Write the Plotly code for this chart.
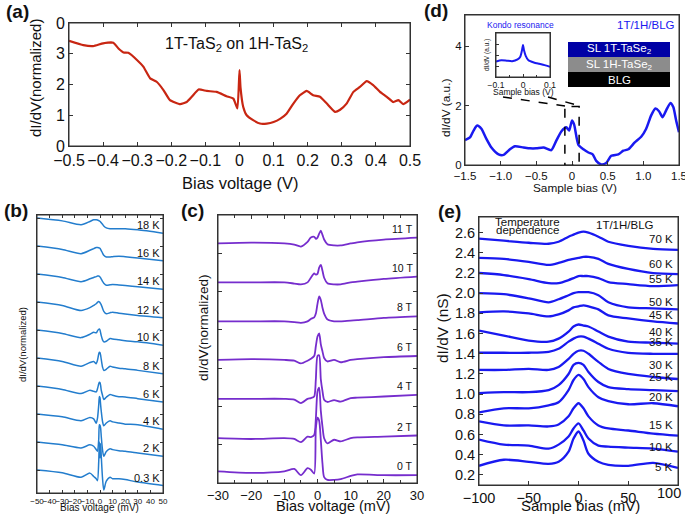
import plotly.graph_objects as go

# ---------------- data ----------------
# (a) 1T-TaS2 on 1H-TaS2
a_bias = [-0.5, -0.458, -0.429, -0.4, -0.37, -0.355, -0.34, -0.326, -0.3, -0.282, -0.262, -0.243,
          -0.223, -0.204, -0.174, -0.155, -0.14, -0.12, -0.096, -0.067, -0.038, -0.018, -0.006,
          0.0, 0.003, 0.011, 0.021, 0.04, 0.06, 0.08, 0.1, 0.12, 0.138, 0.158, 0.177, 0.197,
          0.216, 0.236, 0.256, 0.28, 0.295, 0.314, 0.334, 0.353, 0.373, 0.392, 0.412, 0.432,
          0.451, 0.466, 0.48, 0.5]
a_didv = [3.42, 3.28, 3.25, 3.34, 3.36, 3.17, 3.04, 3.03, 2.79, 2.58, 2.2, 2.09,
          1.82, 1.49, 1.36, 1.43, 1.6, 1.84, 1.79, 1.76, 1.62, 1.54, 1.22,
          2.47, 1.9, 1.27, 1.0, 0.84, 0.73, 0.73, 0.78, 0.89, 1.05, 1.38, 1.65, 1.79,
          1.65, 1.6, 1.38, 1.11, 1.18, 1.38, 1.76, 1.92, 2.11, 1.98, 1.76, 1.6,
          1.43, 1.49, 1.36, 1.51]

# (b) temperature series (offset curves, normalized)
b_bias = [-50, -30, -15, -8, -5, -3, -2, -1, -0.5, 0, 0.5, 1, 2, 3, 5, 8, 10, 15, 20, 30, 50]
b_labels = ["18 K", "16 K", "14 K", "12 K", "10 K", "8 K", "6 K", "4 K", "2 K", "0.3 K"]
b_offsets = [9, 8, 7, 6, 5, 4, 3, 2, 1, 0]
b_18K = [0, -0.1, -0.24, -0.12, -0.06, -0.06, -0.07, -0.09, -0.1, -0.12, -0.14, -0.17, -0.22, -0.28, -0.35, -0.38, -0.38, -0.38, -0.38, -0.42, -0.54]
b_16K = [0, -0.12, -0.27, -0.15, -0.09, -0.05, -0.05, -0.06, -0.07, -0.08, -0.12, -0.16, -0.25, -0.33, -0.39, -0.39, -0.38, -0.36, -0.38, -0.43, -0.52]
b_14K = [0, -0.12, -0.27, -0.17, -0.12, -0.09, -0.07, -0.07, -0.08, -0.1, -0.14, -0.18, -0.26, -0.33, -0.4, -0.38, -0.37, -0.39, -0.41, -0.45, -0.54]
b_12K = [0, -0.12, -0.3, -0.2, -0.12, -0.06, -0.01, 0.02, 0.01, -0.02, -0.06, -0.1, -0.22, -0.33, -0.42, -0.38, -0.36, -0.4, -0.43, -0.48, -0.56]
b_10K = [0, -0.12, -0.27, -0.15, -0.08, -0.1, -0.03, 0.03, 0.04, 0.0, -0.1, -0.2, -0.35, -0.42, -0.4, -0.3, -0.32, -0.35, -0.38, -0.42, -0.54]
b_8K = [0, -0.12, -0.29, -0.16, -0.12, -0.2, -0.08, 0.15, 0.21, 0.19, 0.1, -0.05, -0.32, -0.44, -0.4, -0.29, -0.32, -0.36, -0.38, -0.44, -0.56]
b_6K = [0, -0.12, -0.27, -0.15, -0.19, -0.21, -0.1, 0.08, 0.14, 0.12, 0.02, -0.15, -0.33, -0.48, -0.4, -0.3, -0.33, -0.38, -0.39, -0.45, -0.57]
b_4K = [0, -0.1, -0.24, -0.12, -0.17, -0.33, -0.15, 0.33, 0.63, 0.58, 0.33, 0.1, -0.26, -0.42, -0.32, -0.24, -0.28, -0.32, -0.36, -0.38, -0.54]
b_2K = [0, -0.1, -0.21, -0.1, -0.15, -0.27, -0.33, 0.1, 0.62, 0.6, 0.5, 0.2, -0.28, -0.51, -0.34, -0.24, -0.27, -0.31, -0.33, -0.39, -0.51]
b_03K = [0, -0.1, -0.26, -0.11, -0.23, -0.31, -0.38, 0.31, 1.0, 0.43, 0.95, 0.5, -0.29, -0.71, -0.4, -0.26, -0.31, -0.31, -0.34, -0.43, -0.55]

# (c) magnetic-field series
c_bias = [-30, -20, -10, -7, -5, -3, -2, -1, -0.5, 0, 0.5, 1, 1.5, 2, 3, 5, 7, 10, 12, 20, 30]
c_labels = ["11 T", "10 T", "8 T", "6 T", "4 T", "2 T", "0 T"]
c_offsets = [6.15, 5.15, 4.15, 3.16, 2.16, 1.15, 0.30]
c_11T = [0, 0.02, 0.0, -0.03, -0.08, 0.04, 0.15, 0.17, 0.12, 0.15, 0.25, 0.33, 0.22, 0.1, -0.02, -0.05, -0.05, 0.0, 0.03, 0.1, 0.15]
c_10T = [0, 0.0, 0.0, -0.03, -0.05, 0.0, 0.12, 0.23, 0.2, 0.22, 0.38, 0.45, 0.3, 0.12, -0.02, -0.05, -0.05, 0.0, 0.02, 0.09, 0.15]
c_8T = [0, 0.0, 0.0, -0.02, -0.04, 0.0, 0.06, 0.1, 0.2, 0.45, 0.64, 0.55, 0.35, 0.2, 0.05, 0.0, 0.0, 0.02, 0.03, 0.09, 0.13]
c_6T = [0, 0.02, 0.0, -0.02, -0.09, -0.02, 0.03, 0.1, 0.35, 0.6, 0.68, 0.4, 0.22, 0.05, -0.04, 0.0, -0.06, 0.0, 0.02, 0.07, 0.1]
c_4T = [0, 0.0, 0.0, -0.02, -0.11, 0.0, 0.02, 0.06, 0.5, 1.1, 1.12, 0.5, 0.2, -0.02, -0.08, -0.03, -0.07, 0.02, 0.03, 0.06, 0.1]
c_2T = [0, -0.02, 0.0, -0.02, -0.1, 0.04, 0.03, 0.08, 0.5, 1.2, 1.3, 0.7, 0.3, 0.0, -0.13, -0.04, -0.08, 0.0, 0.02, 0.04, 0.07]
c_0T = [0, -0.04, 0.0, 0.06, -0.1, 0.08, 0.04, -0.06, 1.1, 1.38, 1.3, 0.8, 0.2, -0.15, -0.22, -0.22, -0.2, -0.12, -0.08, -0.1, -0.1]

# (d) 1T/1H/BLG wide spectrum
d_bias = [-1.5, -1.43, -1.38, -1.33, -1.27, -1.2, -1.13, -1.03, -0.96, -0.87, -0.8, -0.68, -0.59,
          -0.5, -0.4, -0.29, -0.22, -0.15, -0.08, -0.04, 0.0, 0.03, 0.09, 0.16, 0.23, 0.29, 0.34,
          0.41, 0.48, 0.55, 0.65, 0.72, 0.79, 0.88, 0.97, 1.04, 1.11, 1.17, 1.22, 1.27, 1.32,
          1.38, 1.42, 1.46, 1.5]
d_didv = [0.84, 0.93, 1.16, 1.33, 1.22, 0.88, 0.59, 0.36, 0.34, 0.53, 0.63, 0.59, 0.56,
          0.56, 0.59, 0.5, 0.82, 1.13, 1.27, 1.16, 1.5, 1.36, 0.68, 0.53, 0.42, 0.36, 0.14,
          0.02, 0.07, 0.31, 0.36, 0.48, 0.53, 0.76, 0.95, 1.22, 1.67, 1.9, 1.81, 1.61, 1.84,
          2.09, 1.95, 1.5, 1.1]
# (d) inset: Kondo resonance
k_bias = [-0.1, -0.08, -0.06, -0.04, -0.02, -0.01, -0.004, 0.0, 0.004, 0.01, 0.02, 0.04, 0.06, 0.08, 0.1]
k_didv = [0.35, 0.38, 0.37, 0.36, 0.4, 0.46, 0.6, 0.73, 0.6, 0.48, 0.38, 0.33, 0.3, 0.27, 0.23]

# (e) temperature dependence (nS)
e_bias = [-100, -75, -50, -30, -20, -10, -5, 0, 5, 10, 20, 30, 50, 75, 100]
e_labels = ["70 K", "60 K", "55 K", "50 K", "45 K", "40 K", "35 K", "30 K", "25 K", "20 K", "15 K", "10 K", "5 K"]
e_70K = [2.54, 2.52, 2.50, 2.49, 2.51, 2.56, 2.58, 2.60, 2.61, 2.60, 2.56, 2.51, 2.47, 2.44, 2.43]
e_60K = [2.35, 2.34, 2.31, 2.28, 2.30, 2.33, 2.34, 2.35, 2.36, 2.36, 2.34, 2.29, 2.24, 2.20, 2.19]
e_55K = [2.20, 2.18, 2.14, 2.10, 2.10, 2.13, 2.15, 2.17, 2.17, 2.17, 2.15, 2.11, 2.09, 2.07, 2.08]
e_50K = [2.00, 1.99, 1.95, 1.91, 1.94, 1.98, 2.00, 2.01, 2.01, 2.01, 1.98, 1.91, 1.86, 1.85, 1.84]
e_45K = [1.81, 1.82, 1.80, 1.77, 1.79, 1.83, 1.86, 1.87, 1.88, 1.87, 1.84, 1.78, 1.75, 1.72, 1.70]
e_40K = [1.63, 1.58, 1.53, 1.52, 1.55, 1.62, 1.67, 1.69, 1.68, 1.67, 1.62, 1.57, 1.52, 1.51, 1.50]
e_35K = [1.41, 1.41, 1.41, 1.42, 1.45, 1.52, 1.55, 1.57, 1.57, 1.55, 1.50, 1.45, 1.41, 1.40, 1.40]
e_30K = [1.24, 1.24, 1.25, 1.24, 1.27, 1.35, 1.40, 1.43, 1.43, 1.40, 1.32, 1.25, 1.20, 1.17, 1.15]
e_25K = [1.01, 1.02, 1.02, 1.04, 1.09, 1.20, 1.29, 1.31, 1.29, 1.22, 1.12, 1.07, 1.05, 1.04, 1.03]
e_20K = [0.82, 0.86, 0.86, 0.89, 0.92, 1.04, 1.14, 1.19, 1.15, 1.07, 0.97, 0.93, 0.90, 0.91, 0.88]
e_15K = [0.73, 0.69, 0.69, 0.68, 0.70, 0.78, 0.86, 0.91, 0.86, 0.78, 0.69, 0.66, 0.64, 0.61, 0.59]
e_10K = [0.55, 0.50, 0.49, 0.46, 0.50, 0.58, 0.66, 0.71, 0.64, 0.56, 0.49, 0.48, 0.47, 0.46, 0.43]
e_5K = [0.29, 0.35, 0.33, 0.31, 0.33, 0.43, 0.56, 0.63, 0.54, 0.41, 0.33, 0.30, 0.29, 0.32, 0.27]

# ---------------- figure ----------------
FONT = "Liberation Sans, Arial, Helvetica, sans-serif"
W, H = 685, 514


def px(x):
    return x / W


def py(y):
    return 1 - y / H


RED = "rgb(200,38,18)"
BLUE_B = "rgb(35,125,205)"
PURPLE = "rgb(118,45,205)"
BLUE = "rgb(25,25,240)"
AXC = "#333333"

fig = go.Figure()

# (a)
fig.add_trace(go.Scatter(x=a_bias, y=a_didv, mode="lines", xaxis="x", yaxis="y",
                         line=dict(color=RED, width=2.2, shape="spline", smoothing=0.4),
                         showlegend=False))

# (b)
b_series = [b_18K, b_16K, b_14K, b_12K, b_10K, b_8K, b_6K, b_4K, b_2K, b_03K]
for off, s in zip(b_offsets, b_series):
    fig.add_trace(go.Scatter(x=b_bias, y=[off + v for v in s], mode="lines", xaxis="x2", yaxis="y2",
                             line=dict(color=BLUE_B, width=1.5, shape="spline", smoothing=0.7),
                             showlegend=False))

# (c)
c_series = [c_11T, c_10T, c_8T, c_6T, c_4T, c_2T, c_0T]
for off, s in zip(c_offsets, c_series):
    fig.add_trace(go.Scatter(x=c_bias, y=[off + v for v in s], mode="lines", xaxis="x3", yaxis="y3",
                             line=dict(color=PURPLE, width=1.8, shape="spline", smoothing=0.7),
                             showlegend=False))

# (d)
fig.add_trace(go.Scatter(x=d_bias, y=d_didv, mode="lines", xaxis="x4", yaxis="y4",
                         line=dict(color=BLUE, width=2.5, shape="spline", smoothing=0.6),
                         showlegend=False))
fig.add_trace(go.Scatter(x=k_bias, y=k_didv, mode="lines", xaxis="x5", yaxis="y5",
                         line=dict(color=BLUE, width=2, shape="spline", smoothing=0.6),
                         showlegend=False))

# (e)
e_series = [e_70K, e_60K, e_55K, e_50K, e_45K, e_40K, e_35K, e_30K, e_25K, e_20K, e_15K, e_10K, e_5K]
for s in e_series:
    fig.add_trace(go.Scatter(x=e_bias, y=s, mode="lines", xaxis="x6", yaxis="y6",
                             line=dict(color=BLUE, width=2.3, shape="spline", smoothing=0.8),
                             showlegend=False))


def ax(domain, rng, anchor, size, **kw):
    d = dict(domain=domain, range=rng, anchor=anchor, showline=True, linecolor=AXC, linewidth=1,
             mirror="allticks", ticks="inside", ticklen=4, tickcolor=AXC, tickwidth=1, showgrid=False,
             zeroline=False, automargin=False, tickfont=dict(family=FONT, size=size, color="#111"),
             tickangle=0, ticklabeloverflow="allow")
    d.update(kw)
    return d


layout = dict(
    template="none",
    width=W, height=H, autosize=False, margin=dict(l=0, r=0, t=0, b=0, pad=0),
    paper_bgcolor="white", plot_bgcolor="rgba(0,0,0,0)", font=dict(family=FONT, color="#111"),
    showlegend=False,
    # (a)
    xaxis=ax([px(69), px(410)], [-0.5, 0.5], "y", 16, tickvals=[-0.5, -0.4, -0.3, -0.2, -0.1, 0, 0.1, 0.2, 0.3, 0.4, 0.5],
             ticktext=["−0.5", "−0.4", "−0.3", "−0.2", "−0.1", "0", "0.1", "0.2", "0.3", "0.4", "0.5"]),
    yaxis=ax([py(146), py(23)], [0, 4], "x", 16, tickvals=[0, 1, 2, 3, 4], ticktext=["0", "1", "2", "3", "0"]),
    # (b)
    xaxis2=ax([px(37), px(163)], [-50, 50], "y2", 8, tickvals=[-50, -40, -30, -20, -10, 0, 10, 20, 30, 40, 50],
              ticktext=["−50", "−40", "−30", "−20", "−10", "0", "10", "20", "30", "40", "50"], ticklen=3),
    yaxis2=ax([py(493), py(215)], [-0.82, 9.11], "x2", 8, tickvals=[0, 1, 2, 3, 4, 5, 6, 7, 8, 9],
              showticklabels=False, ticklen=3),
    # (c)
    xaxis3=ax([px(218), px(417)], [-30, 30], "y3", 13, tickvals=[-30, -20, -10, 0, 10, 20, 30],
              ticktext=["−30", "−20", "−10", "0", "10", "20", "30"],
              minor=dict(dtick=5, ticks="inside", ticklen=3, tickcolor=AXC)),
    yaxis3=ax([py(483), py(215)], [0, 6.88], "x3", 13, tickvals=[0.98, 1.97, 2.95, 3.93, 4.91, 5.9],
              showticklabels=False),
    # (d)
    xaxis4=ax([px(465), px(679)], [-1.5, 1.5], "y4", 11.5, tickvals=[-1.5, -1, -0.5, 0, 0.5, 1, 1.5],
              ticktext=["−1.5", "−1.0", "−0.5", "0", "0.5", "1.0", "1.5"], mirror=True),
    yaxis4=ax([py(165), py(15)], [0, 5.05], "x4", 11.5, tickvals=[0, 2, 4], mirror=True),
    xaxis5=ax([px(496), px(550)], [-0.1, 0.1], "y5", 8.5, tickvals=[-0.1, 0, 0.1],
              ticktext=["−0.1", "0", "0.1"], ticklen=3, mirror=True,
              minor=dict(dtick=0.05, ticks="inside", ticklen=2, tickcolor=AXC)),
    yaxis5=ax([py(77), py(33)], [0, 1], "x5", 6, tickvals=[0.25, 0.5, 0.75], showticklabels=False, ticklen=3,
              mirror=True),
    # (e)
    xaxis6=ax([px(479), px(678)], [-100, 100], "y6", 14.5, tickvals=[-100, -50, 0, 50, 100],
              ticktext=["−100", "−50", "0", "50", ""], mirror=True),
    yaxis6=ax([py(485), py(217)], [0.1, 2.755], "x6", 14.5, mirror=True,
              tickvals=[0.2, 0.4, 0.6, 0.8, 1.0, 1.2, 1.4, 1.6, 1.8, 2.0, 2.2, 2.4, 2.6],
              ticktext=["0.2", "0.4", "0.6", "0.8", "1.0", "1.2", "1.4", "1.6", "1.8", "2.0", "2.2", "2.4", "2.6"]),
)
fig.update_layout(**layout)

ann = []


def txt(x, y, s, size, color="#111", bold=False, angle=0, xanchor="center", yanchor="middle", xref="paper", yref="paper"):
    if xref == "paper":
        x = px(x)
    if yref == "paper":
        y = py(y)
    ann.append(dict(x=x, y=y, xref=xref, yref=yref, text=("<b>%s</b>" % s if bold else s), showarrow=False,
                    textangle=angle, xanchor=xanchor, yanchor=yanchor,
                    font=dict(family=FONT, size=size, color=color)))


# panel letters
txt(17, 11, "(a)", 19, bold=True)
txt(16, 210, "(b)", 19, bold=True)
txt(192, 210, "(c)", 19, bold=True)
txt(436, 10, "(d)", 19, bold=True)
txt(449, 211, "(e)", 19, bold=True)

# axis titles
txt(240, 183, "Bias voltage (V)", 16.5)
txt(35, 78, "dI/dV(normalized)", 15, angle=-90)
txt(100, 507, "Bias voltage (mV)", 10)
txt(22, 345, "dI/dV(normalized)", 9.5, angle=-90)
txt(333, 506, "Bias voltage (mV)", 14.5)
txt(203, 328, "dI/dV(normalized)", 13.5, angle=-90)
txt(575, 188, "Sample bias (V)", 11.8)
txt(446, 108, "dI/dV (a.u.)", 11.8, angle=-90)
txt(523, 92, "Sample bias (V)", 8.5)
txt(487, 55, "dI/dV (a.u.)", 6.5, angle=-90)
txt(580, 505, "Sample bias (mV)", 15)
txt(442, 328, "dI/dV (nS)", 15.5, angle=-90)
# last (e) tick label, drawn just inside the frame edge as in the reference
txt(669, 493, "100", 14.5)

# in-plot texts
txt(236, 44, "1T-TaS<sub>2</sub> on 1H-TaS<sub>2</sub>", 16)
txt(520, 25, "Kondo resonance", 8.5, color=BLUE)
txt(646, 25, "1T/1H/BLG", 11.5, color=BLUE)
txt(527, 221.5, "Temperature", 11.5)
txt(527, 230.5, "dependence", 11.5)
txt(625, 225, "1T/1H/BLG", 11.5)

# layer stack
txt(619, 49.5, "SL 1T-TaSe<sub>2</sub>", 11.5, color="white")
txt(619, 64.5, "SL 1H-TaSe<sub>2</sub>", 11.5, color="white")
txt(619, 79.5, "BLG", 11.5, color="white")

# curve labels
for lab, off, s in zip(b_labels, b_offsets, b_series):
    txt(49.2, off + s[-1] + 0.28, lab, 11, xanchor="right", xref="x2", yref="y2")
for lab, off, s in zip(c_labels, c_offsets, c_series):
    txt(29.4, off + s[-1] + 0.23, lab, 10.5, xanchor="right", xref="x3", yref="y3")
e_label_y = [2.54, 2.29, 2.145, 1.915, 1.78, 1.62, 1.52, 1.29, 1.17, 0.975, 0.69, 0.48, 0.28]
for lab, yy in zip(e_labels, e_label_y):
    txt(97, yy, lab, 11.5, xanchor="right", xref="x6", yref="y6")

fig.update_layout(annotations=ann)

shapes = []
# frames around each plot area
for xa, ya in [("x", "y"), ("x2", "y2"), ("x3", "y3"), ("x4", "y4"), ("x5", "y5"), ("x6", "y6")]:
    shapes.append(dict(type="rect", xref=xa + " domain", yref=ya + " domain", x0=0, x1=1, y0=0, y1=1,
                       line=dict(color=AXC, width=1), fillcolor="rgba(0,0,0,0)", layer="above"))
shapes += [
    # layer stack
    dict(type="rect", xref="paper", yref="paper", x0=px(568), x1=px(670), y0=py(57), y1=py(42),
         fillcolor="rgb(0,0,165)", line=dict(width=0)),
    dict(type="rect", xref="paper", yref="paper", x0=px(568), x1=px(670), y0=py(72), y1=py(57),
         fillcolor="rgb(140,140,140)", line=dict(width=0)),
    dict(type="rect", xref="paper", yref="paper", x0=px(568), x1=px(670), y0=py(87), y1=py(72),
         fillcolor="black", line=dict(width=0)),
    # dashed zoom box and connectors
    dict(type="rect", xref="x4", yref="y4", x0=-0.1, x1=0.1, y0=-0.02, y1=1.97,
         line=dict(color="black", width=1.5, dash="dash")),
    dict(type="line", xref="paper", yref="paper", x0=px(503), y0=py(97), x1=px(565), y1=py(106),
         line=dict(color="black", width=1.5, dash="dash")),
    dict(type="line", xref="paper", yref="paper", x0=px(548), y0=py(97), x1=px(580), y1=py(106),
         line=dict(color="black", width=1.5, dash="dash")),
]
fig.update_layout(shapes=shapes)

# remove the browser's default page margin so the figure starts at the window corner
fig.write_html("out.html", config={"displayModeBar": False},
               post_script="document.body.style.margin='0';document.body.style.padding='0';document.body.style.overflow='hidden';")
